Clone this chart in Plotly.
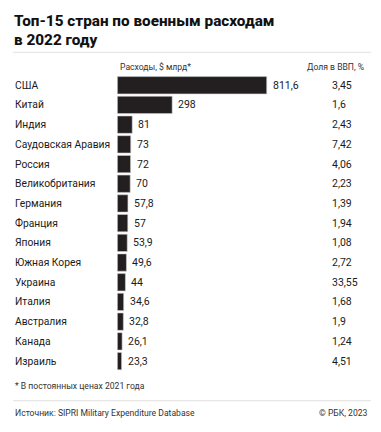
import plotly.graph_objects as go

countries = ["США", "Китай", "Индия", "Саудовская Аравия", "Россия", "Великобритания",
             "Германия", "Франция", "Япония", "Южная Корея", "Украина", "Италия",
             "Австралия", "Канада", "Израиль"]
spending = [811.6, 298, 81, 73, 72, 70, 57.8, 57, 53.9, 49.6, 44, 34.6, 32.8, 26.1, 23.3]
gdp_share = ["3,45", "1,6", "2,43", "7,42", "4,06", "2,23", "1,39", "1,94", "1,08",
             "2,72", "33,55", "1,68", "1,9", "1,24", "4,51"]

W, H = 381, 432
FONT = "Roboto, 'Liberation Sans', Arial, sans-serif"
TXT = "#1a1a1a"

def fmt(v):
    s = str(v)
    return s.replace(".", ",")

fig = go.Figure()
fig.add_trace(go.Bar(
    x=spending, y=countries, orientation="h",
    marker=dict(color="#231f20", line=dict(color="#cfcfcf", width=0.6)),
    width=0.88, hoverinfo="skip",
))

ann = []
for c, v, g in zip(countries, spending, gdp_share):
    ann.append(dict(x=13 / W, xref="paper", y=c, yref="y", text=c, showarrow=False,
                    xanchor="left", yanchor="middle", font=dict(size=10.3, color=TXT, family=FONT)))
    ann.append(dict(x=v, xref="x", y=c, yref="y", text=fmt(v), showarrow=False,
                    xanchor="left", yanchor="middle", xshift=4,
                    font=dict(size=10.5, color=TXT, family=FONT)))
    ann.append(dict(x=329.5 / W, xref="paper", y=c, yref="y", text=g, showarrow=False,
                    xanchor="left", yanchor="middle", font=dict(size=10.5, color=TXT, family=FONT)))

def ptext(x, y, text, size, anchor="left", color=TXT, weight=None, family=FONT):
    f = dict(size=size, color=color, family=family)
    if weight:
        f["weight"] = weight
    return dict(x=x / W, y=1 - y / H, xref="paper", yref="paper", text=text, showarrow=False,
                xanchor=anchor, yanchor="middle", font=f)

ann += [
    ptext(12, 21.5, "Топ-15 стран по военным расходам", 15.3, weight=800, color="#111"),
    ptext(12, 39.5, "в 2022 году", 15.3, weight=800, color="#111"),
    ptext(117.5, 67, "Расходы, $ млрд*", 8.6, color="#333"),
    ptext(366, 67, "Доля в ВВП, %", 8.6, anchor="right", color="#333"),
    ptext(12.5, 386, "* В постоянных ценах 2021 года", 8.6, color="#333"),
    ptext(12.5, 412.5, "Источник: SIPRI Military Expenditure Database", 8.6, color="#333"),
    ptext(369.5, 412.5, "© РБК, 2023", 8.6, anchor="right", color="#333"),
]

shapes = [
    dict(type="line", xref="paper", yref="paper", x0=13 / W, x1=371 / W,
         y0=1 - 52.3 / H, y1=1 - 52.3 / H, line=dict(color="#e0e0e0", width=1)),
    dict(type="line", xref="paper", yref="paper", x0=13 / W, x1=371 / W,
         y0=1 - 400.7 / H, y1=1 - 400.7 / H, line=dict(color="#e0e0e0", width=1)),
]

fig.update_layout(
    width=W, height=H, margin=dict(l=0, r=0, t=0, b=0),
    paper_bgcolor="white", plot_bgcolor="white",
    showlegend=False, annotations=ann, shapes=shapes,
    xaxis=dict(domain=[117.3 / W, 1], range=[0, 263.7 / 0.1841], visible=False, fixedrange=True),
    yaxis=dict(domain=[1 - 370.9 / H, 1 - 75.4 / H], range=[14.5, -0.5], visible=False,
               type="category", categoryorder="array", categoryarray=countries, fixedrange=True),
)

fig.write_html("out.html", config={"displayModeBar": False},
               post_script="document.body.style.margin='0';document.body.style.overflow='hidden';")
